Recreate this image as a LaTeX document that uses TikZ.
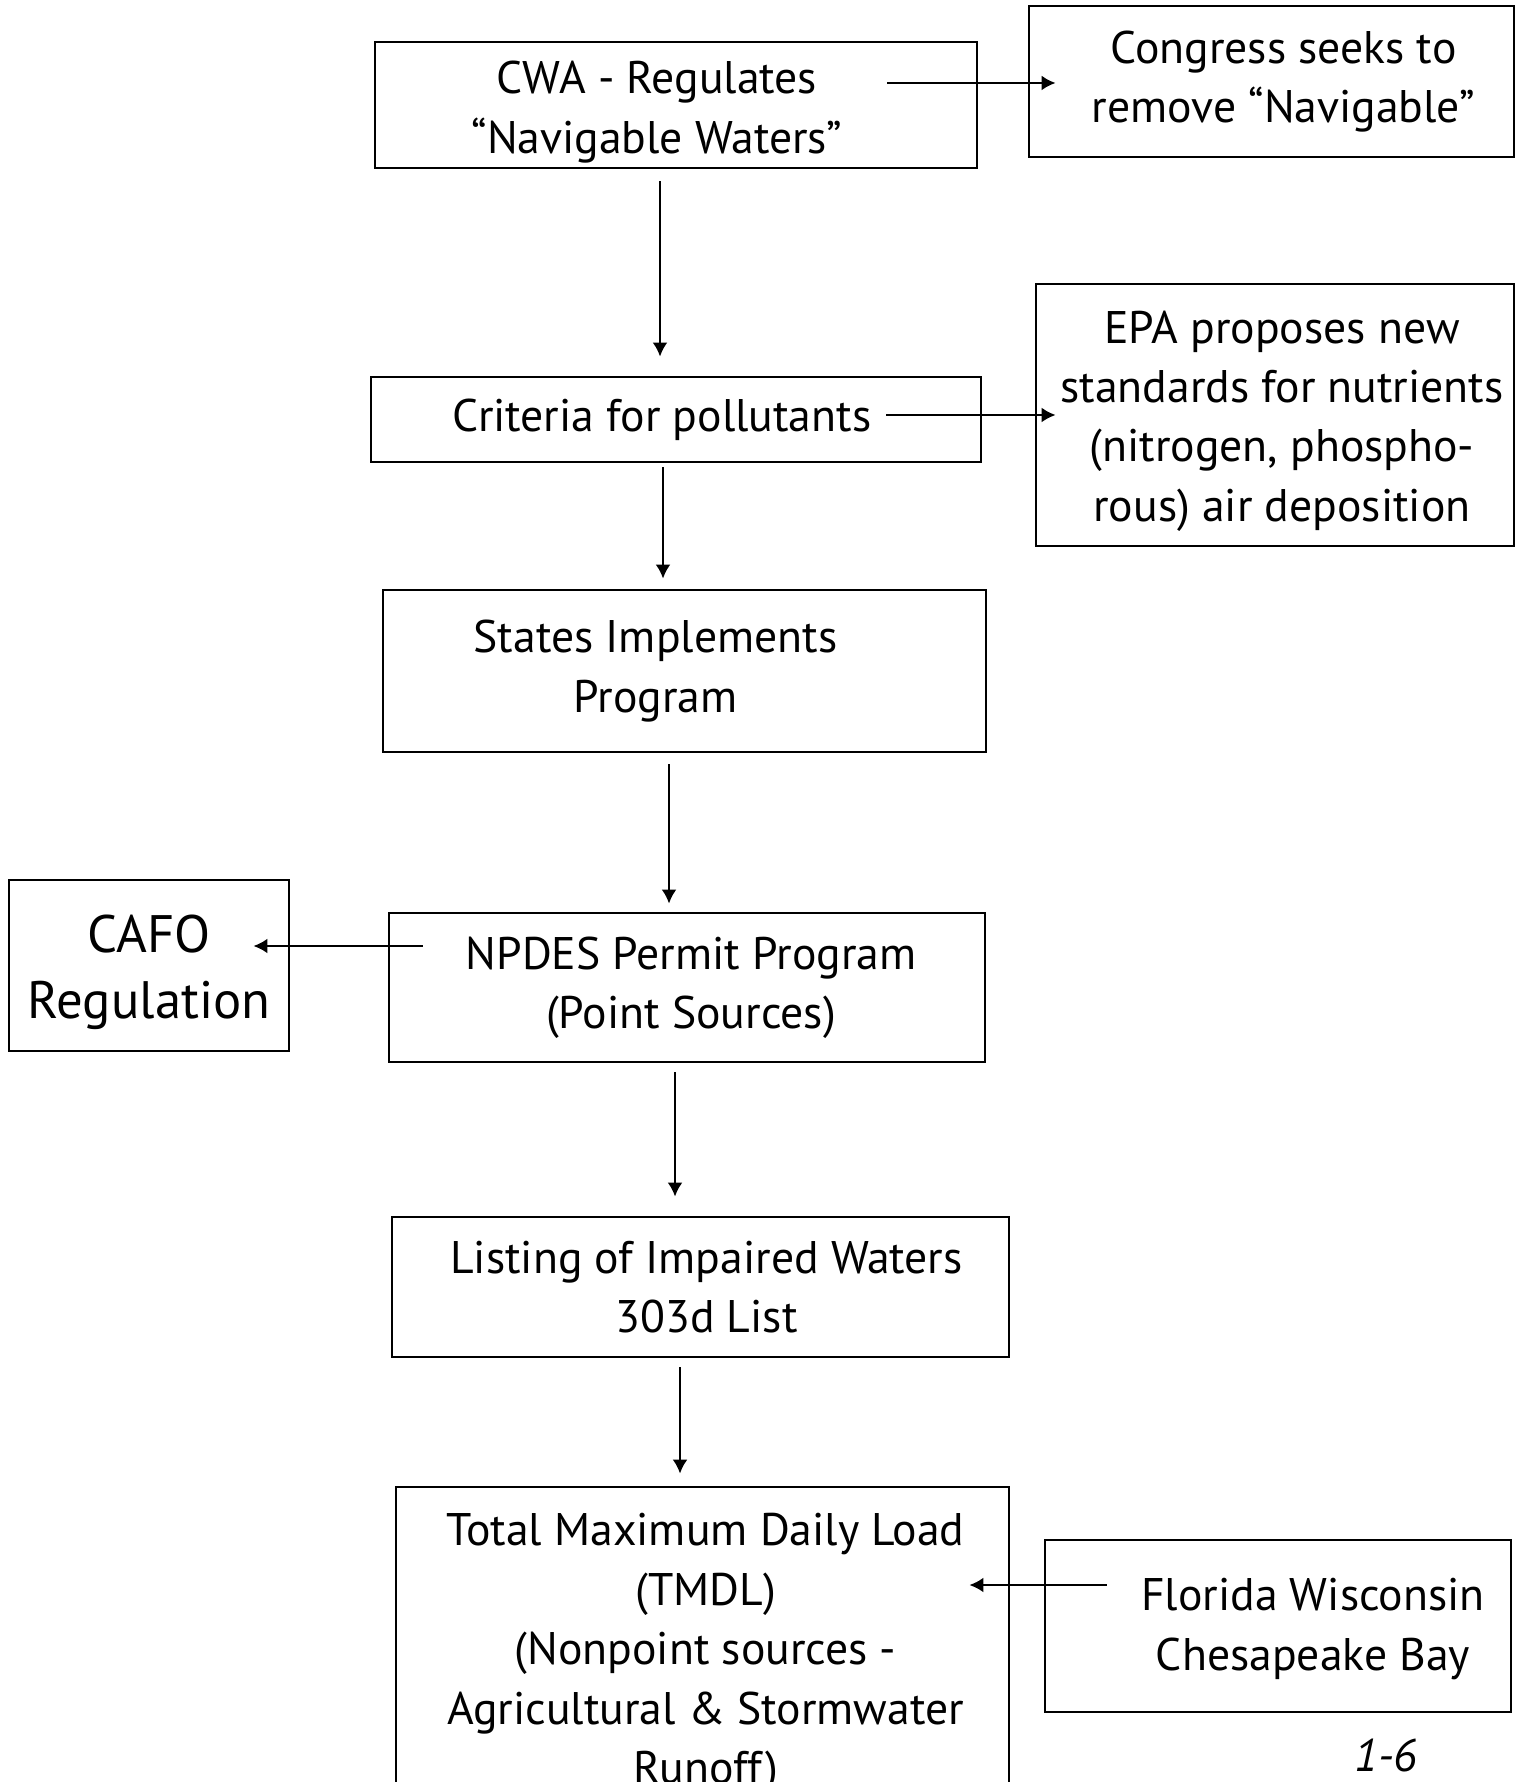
\documentclass[tikz,border=0pt]{standalone}
\usepackage{fontspec}
\setmainfont{PT Sans}
\usetikzlibrary{positioning, calc, arrows.meta}

\tikzset{
  box/.style={draw, line width=0.8pt, inner sep=0pt},
  txt/.style={align=center, inner sep=0pt, font=\fontsize{13}{16.9}\selectfont},
  arr/.style={line width=0.7pt, -{Latex[length=1.4mm,width=1.5mm]}}
}

\begin{document}
\begin{tikzpicture}[scale=1]
      \useasboundingbox (0,0) rectangle (15.19,-17.82);
      % main column
      \node[box, minimum width=6.02cm, minimum height=1.26cm] (cwa) at (6.76,-1.05) {};
      \node[txt, xshift=-0.19cm, yshift=-0.07cm] (cwa-txt) at (cwa) {CWA - Regulates\\“Navigable Waters”};
      \node[box, minimum width=6.10cm, minimum height=0.85cm] (crit) at (6.76,-4.195) {};
      \node[txt, xshift=-0.14cm] (crit-txt) at (crit) {Criteria for pollutants};
      \node[box, minimum width=6.03cm, minimum height=1.62cm] (states) at (6.845,-6.71) {};
      \node[txt, xshift=-0.29cm] (states-txt) at (states) {States Implements\\Program};
      \node[box, minimum width=5.96cm, minimum height=1.49cm] (npdes) at (6.87,-9.875) {};
      \node[txt, xshift=0.04cm] (npdes-txt) at (npdes) {NPDES Permit Program\\(Point Sources)};
      \node[box, minimum width=6.17cm, minimum height=1.40cm] (listing) at (7.005,-12.87) {};
      \node[txt, xshift=0.06cm] (listing-txt) at (listing) {Listing of Impaired Waters\\303d List};
      \node[box, minimum width=6.13cm, minimum height=3.29cm] (tmdl) at (7.025,-16.515) {};
      \node[txt, xshift=0.03cm, yshift=-0.02cm] (tmdl-txt) at (tmdl)
        {Total Maximum Daily Load\\(TMDL)\\(Nonpoint sources -\\Agricultural \& Stormwater\\Runoff)};
      % side boxes
      \node[box, minimum width=4.85cm, minimum height=1.51cm] (congress) at (12.715,-0.815) {};
      \node[txt, xshift=0.12cm] (congress-txt) at (congress) {Congress seeks to\\remove “Navigable”};
      \node[box, minimum width=4.78cm, minimum height=2.62cm] (epa) at (12.75,-4.15) {};
      \node[txt, xshift=0.07cm, yshift=-0.06cm] (epa-txt) at (epa)
        {EPA proposes new\\standards for nutrients\\(nitrogen, phospho-\\rous) air deposition};
      \node[box, minimum width=2.80cm, minimum height=1.71cm] (cafo) at (1.49,-9.655) {};
      \node[txt, font=\fontsize{15}{18.6}\selectfont, yshift=-0.07cm] (cafo-txt) at (cafo) {CAFO\\Regulation};
      \node[box, minimum width=4.66cm, minimum height=1.72cm] (florida) at (12.78,-16.26) {};
      \node[txt, xshift=0.35cm, yshift=-0.03cm] (florida-txt) at (florida) {Florida Wisconsin\\Chesapeake Bay};
      \node[font=\itshape\fontsize{13}{15}\selectfont] (page) at (13.86,-17.55) {1-6};
      % downward arrows
      \draw[arr] ([xshift=-0.16cm,yshift=-0.12cm]cwa.south)
        -- ([xshift=-0.16cm,yshift=0.19cm]cwa.south |- crit.north);
      \draw[arr] ([xshift=-0.13cm,yshift=-0.04cm]crit.south)
        -- ([xshift=-0.13cm,yshift=0.10cm]crit.south |- states.north);
      \draw[arr] ([xshift=-0.155cm,yshift=-0.11cm]states.south)
        -- ([xshift=-0.155cm,yshift=0.08cm]states.south |- npdes.north);
      \draw[arr] ([xshift=-0.12cm,yshift=-0.09cm]npdes.south)
        -- ([xshift=-0.12cm,yshift=0.19cm]npdes.south |- listing.north);
      \draw[arr] ([xshift=-0.205cm,yshift=-0.09cm]listing.south)
        -- ([xshift=-0.205cm,yshift=0.12cm]listing.south |- tmdl.north);
      % side arrows
      \draw[arr] ([xshift=-0.91cm,yshift=-0.015cm]cwa.east |- congress.west)
        -- ([xshift=0.28cm,yshift=-0.015cm]congress.west);
      \draw[arr] ([xshift=-0.96cm,yshift=0.045cm]crit.east)
        -- ([xshift=0.21cm,yshift=0.045cm]crit.east -| epa.west);
      \draw[arr] ([xshift=0.35cm,yshift=0.195cm]npdes.west |- cafo.east)
        -- ([xshift=-0.37cm,yshift=0.195cm]cafo.east);
      \draw[arr] ([xshift=0.63cm,yshift=0.41cm]florida.west)
        -- ([xshift=-0.41cm,yshift=0.41cm]florida.west -| tmdl.east);
\end{tikzpicture}
\end{document}
